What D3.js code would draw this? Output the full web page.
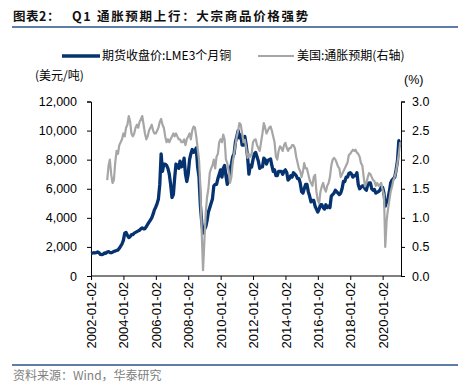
<!DOCTYPE html>
<html>
<head>
<meta charset="utf-8">
<script src="https://cdn.jsdelivr.net/npm/d3@7"></script>
<style>
  body { margin: 0; background: #fff; }
  svg { display: block; }
  .axis path, .axis line { stroke: #000; }
  .axis text { font-family: "Liberation Sans", Arial, sans-serif; fill: #000; }
</style>
</head>
<body>
<div id="chart"></div>
<script>
// LME 3个月铜 (美元/吨), monthly from 2002-01
const copperStart = "2002-01";
const copper = [
  1560,1580,1600,1590,1610,1650,1600,1480,1470,1500,1580,1560,
  1650,1680,1610,1600,1640,1690,1710,1760,1780,1900,2050,2200,
  2450,2950,3000,2800,2650,2700,2850,2850,2950,3000,3050,3100,
  3150,3250,3300,3250,3250,3400,3550,3700,3850,4000,4250,4550,
  4750,5000,5300,6300,8400,7200,7700,7700,7600,7400,7000,6300,
  5400,5600,6700,7700,7600,7400,7900,7500,7600,8100,7000,6500,
  7000,8000,8400,8700,8500,8600,8800,7500,6800,4900,3700,2950,
  3200,3400,3800,4400,4700,5000,5300,6200,6300,6300,6700,7000,
  7300,6800,7400,7600,6900,6300,6700,7300,7700,8200,8400,9200,
  9600,10000,9500,9700,9000,9000,9600,9000,8200,7000,7600,7500,
  8000,8400,8500,8200,7900,7400,7500,7500,8100,8000,7700,7950,
  8000,8050,7600,7200,7300,6900,6900,7200,7200,7200,7000,7200,
  7300,7100,6600,6700,6900,6800,7100,7000,6900,6700,6700,6400,
  5800,5700,6000,6300,6300,5800,5500,5100,5200,5200,4800,4600,
  4400,4600,4900,4900,4700,4600,4900,4700,4800,4700,5500,5600,
  5700,5900,5800,5700,5600,5700,6000,6500,6500,6800,6800,7050,
  7100,7000,6800,6900,6900,7100,6300,6000,6100,6200,6200,6000,
  5900,6300,6400,6400,6000,5900,5950,5700,5750,5800,5900,6100,
  6100,5700,4800,5100,5300,5800,6400,6600,6700,6800,7300,7900,
  9300,8900
];

// 美国:通胀预期 (%), monthly from 2003-01
const beStart = "2003-01";
const breakeven = [
  1.65,1.90,2.00,1.75,1.60,1.65,1.95,2.15,2.10,2.25,2.30,2.35,
  2.45,2.40,2.55,2.60,2.75,2.65,2.45,2.40,2.45,2.55,2.60,2.55,
  2.65,2.70,2.75,2.60,2.45,2.35,2.40,2.50,2.55,2.60,2.50,2.45,
  2.45,2.50,2.55,2.65,2.70,2.60,2.55,2.40,2.30,2.35,2.30,2.35,
  2.40,2.45,2.40,2.45,2.40,2.35,2.35,2.30,2.30,2.35,2.25,2.35,
  2.40,2.45,2.35,2.50,2.57,2.55,2.40,2.20,2.00,1.55,0.75,0.10,
  0.62,1.10,1.35,1.50,1.77,1.85,1.90,2.00,1.85,2.05,2.10,2.30,
  2.35,2.30,2.43,2.35,2.00,1.94,1.80,1.60,1.70,1.95,2.10,2.25,
  2.40,2.50,2.63,2.60,2.45,2.30,2.34,2.20,2.03,2.10,2.05,2.10,
  2.30,2.34,2.35,2.25,2.20,2.15,2.30,2.45,2.63,2.55,2.45,2.50,
  2.55,2.57,2.50,2.40,2.30,2.05,2.00,2.15,2.23,2.20,2.15,2.25,
  2.29,2.20,2.15,2.20,2.20,2.25,2.25,2.20,2.05,1.95,1.85,1.80,
  1.70,1.80,1.94,1.85,1.85,1.75,1.65,1.60,1.55,1.70,1.74,1.45,
  1.30,1.25,1.45,1.54,1.60,1.50,1.45,1.55,1.60,1.70,1.90,2.00,
  2.03,2.00,1.95,1.88,1.85,1.70,1.75,1.80,1.85,1.90,1.95,2.08,
  2.10,2.14,2.17,2.15,2.17,2.12,2.10,2.05,1.94,1.90,1.70,1.54,
  1.60,1.70,1.77,1.75,1.70,1.65,1.63,1.55,1.60,1.55,1.57,1.60,
  1.48,1.40,0.50,0.95,1.14,1.30,1.45,1.54,1.65,1.71,1.80,1.95,
  2.10,2.30
];

const xTickLabels = ["2002-01-02","2004-01-02","2006-01-02","2008-01-02","2010-01-02",
  "2012-01-02","2014-01-02","2016-01-02","2018-01-02","2020-01-02"];
const leftTicks = [0, 2000, 4000, 6000, 8000, 10000, 12000];
const rightTicks = [0, 0.5, 1.0, 1.5, 2.0, 2.5, 3.0];

function makeChart() {
    const width = 472, height = 391;
    const left = 91, right = 401, top = 101.5, bottom = 276;
    const navy = "#06336f", grey = "#a6a6a6", rule = "#5e7ea9";
    const cjk = '"Noto Sans CJK SC", "Liberation Sans", sans-serif';

    const parseMonth = d3.timeParse("%Y-%m");
    const parseDay = d3.timeParse("%Y-%m-%d");

    const monthly = (start, vals) => {
        const t0 = parseMonth(start);
        return vals.map((v, i) => ({ date: d3.timeMonth.offset(t0, i), value: v }));
    };
    const copperData = monthly(copperStart, copper);
    const beData = monthly(beStart, breakeven);

    const svg = d3.select('#chart').append('svg')
        .attr('width', width)
        .attr('height', height);

    let x = d3.scaleTime()
        .domain([new Date(2002, 0, 1), new Date(2021, 1, 19)])
        .range([left, right]);
    let yL = d3.scaleLinear().domain([0, 12000]).range([bottom, top]);
    let yR = d3.scaleLinear().domain([0, 3]).range([bottom, top]);

    // title and rules
    svg.append('text')
        .attr('x', 13).attr('y', 21)
        .style('font-family', cjk).style('font-weight', 'bold')
        .style('font-size', '12.5px').style('letter-spacing', '0.5px')
        .attr('fill', '#111')
        .text('图表2：');
    svg.append('text')
        .attr('x', 72).attr('y', 21)
        .style('font-family', cjk).style('font-weight', 'bold')
        .style('font-size', '12.5px').style('letter-spacing', '1.7px')
        .attr('fill', '#111')
        .text('Q1 通胀预期上行：大宗商品价格强势');
    svg.append('line')
        .attr('x1', 12).attr('x2', 458).attr('y1', 27).attr('y2', 27)
        .attr('stroke', rule).attr('stroke-width', 2);
    svg.append('line')
        .attr('x1', 12).attr('x2', 458).attr('y1', 365).attr('y2', 365)
        .attr('stroke', rule).attr('stroke-width', 2);
    svg.append('text')
        .attr('x', 13).attr('y', 380)
        .style('font-family', cjk).style('font-size', '12px')
        .attr('fill', '#808080')
        .text('资料来源：Wind，华泰研究');

    // legend
    let legend = svg.append('g').style('font-family', cjk).style('font-size', '12px');
    legend.append('line').attr('x1', 62).attr('x2', 100).attr('y1', 56).attr('y2', 56)
        .attr('stroke', navy).attr('stroke-width', 3.5);
    legend.append('text').attr('x', 102).attr('y', 60).text('期货收盘价:LME3个月铜');
    legend.append('line').attr('x1', 258).attr('x2', 294).attr('y1', 56).attr('y2', 56)
        .attr('stroke', grey).attr('stroke-width', 2);
    legend.append('text').attr('x', 297).attr('y', 60).text('美国:通胀预期(右轴)');

    // unit labels
    svg.append('text').attr('x', 35).attr('y', 80)
        .style('font-family', cjk).style('font-size', '12px')
        .text('(美元/吨)');
    svg.append('text').attr('x', 404).attr('y', 84)
        .style('font-family', '"Liberation Sans", Arial, sans-serif').style('font-size', '12.5px')
        .text('(%)');

    // axes
    svg.append('g')
        .attr('class', 'axis')
        .attr('transform', 'translate(' + left + ',0)')
        .call(d3.axisLeft(yL).tickValues(leftTicks).tickFormat(d3.format(',')).tickSizeOuter(0).tickSize(4).tickPadding(10))
        .selectAll('text').style('font-size', '12.5px');

    svg.append('g')
        .attr('class', 'axis')
        .attr('transform', 'translate(' + right + ',0)')
        .call(d3.axisRight(yR).tickValues(rightTicks).tickFormat(d3.format('.1f')).tickSizeOuter(0).tickSize(4).tickPadding(7))
        .selectAll('text').style('font-size', '12.5px');

    let xAxis = svg.append('g')
        .attr('class', 'axis')
        .attr('transform', 'translate(0,' + bottom + ')')
        .call(d3.axisBottom(x).tickValues(xTickLabels.map(parseDay))
            .tickFormat(d3.timeFormat('%Y-%m-%d')).tickSizeOuter(0).tickSize(4));
    xAxis.select('.domain').attr('d', 'M' + left + ',0H' + right);
    xAxis.selectAll('text')
        .style('font-size', '13px')
        .style('text-anchor', 'end')
        .attr('x', -6).attr('y', 0).attr('dy', '0.35em')
        .attr('transform', 'rotate(-90)');

    // data lines
    const copperLine = d3.line().x(d => x(d.date)).y(d => yL(d.value));
    const beLine = d3.line().x(d => x(d.date)).y(d => yR(d.value));

    svg.append('path')
        .datum(copperData)
        .attr('fill', 'none')
        .attr('stroke', navy)
        .attr('stroke-width', 3.3)
        .attr('stroke-linejoin', 'round')
        .attr('d', copperLine);

    svg.append('path')
        .datum(beData)
        .attr('fill', 'none')
        .attr('stroke', grey)
        .attr('stroke-width', 2.2)
        .attr('stroke-linejoin', 'round')
        .attr('d', beLine);
}

makeChart();
</script>
</body>
</html>
